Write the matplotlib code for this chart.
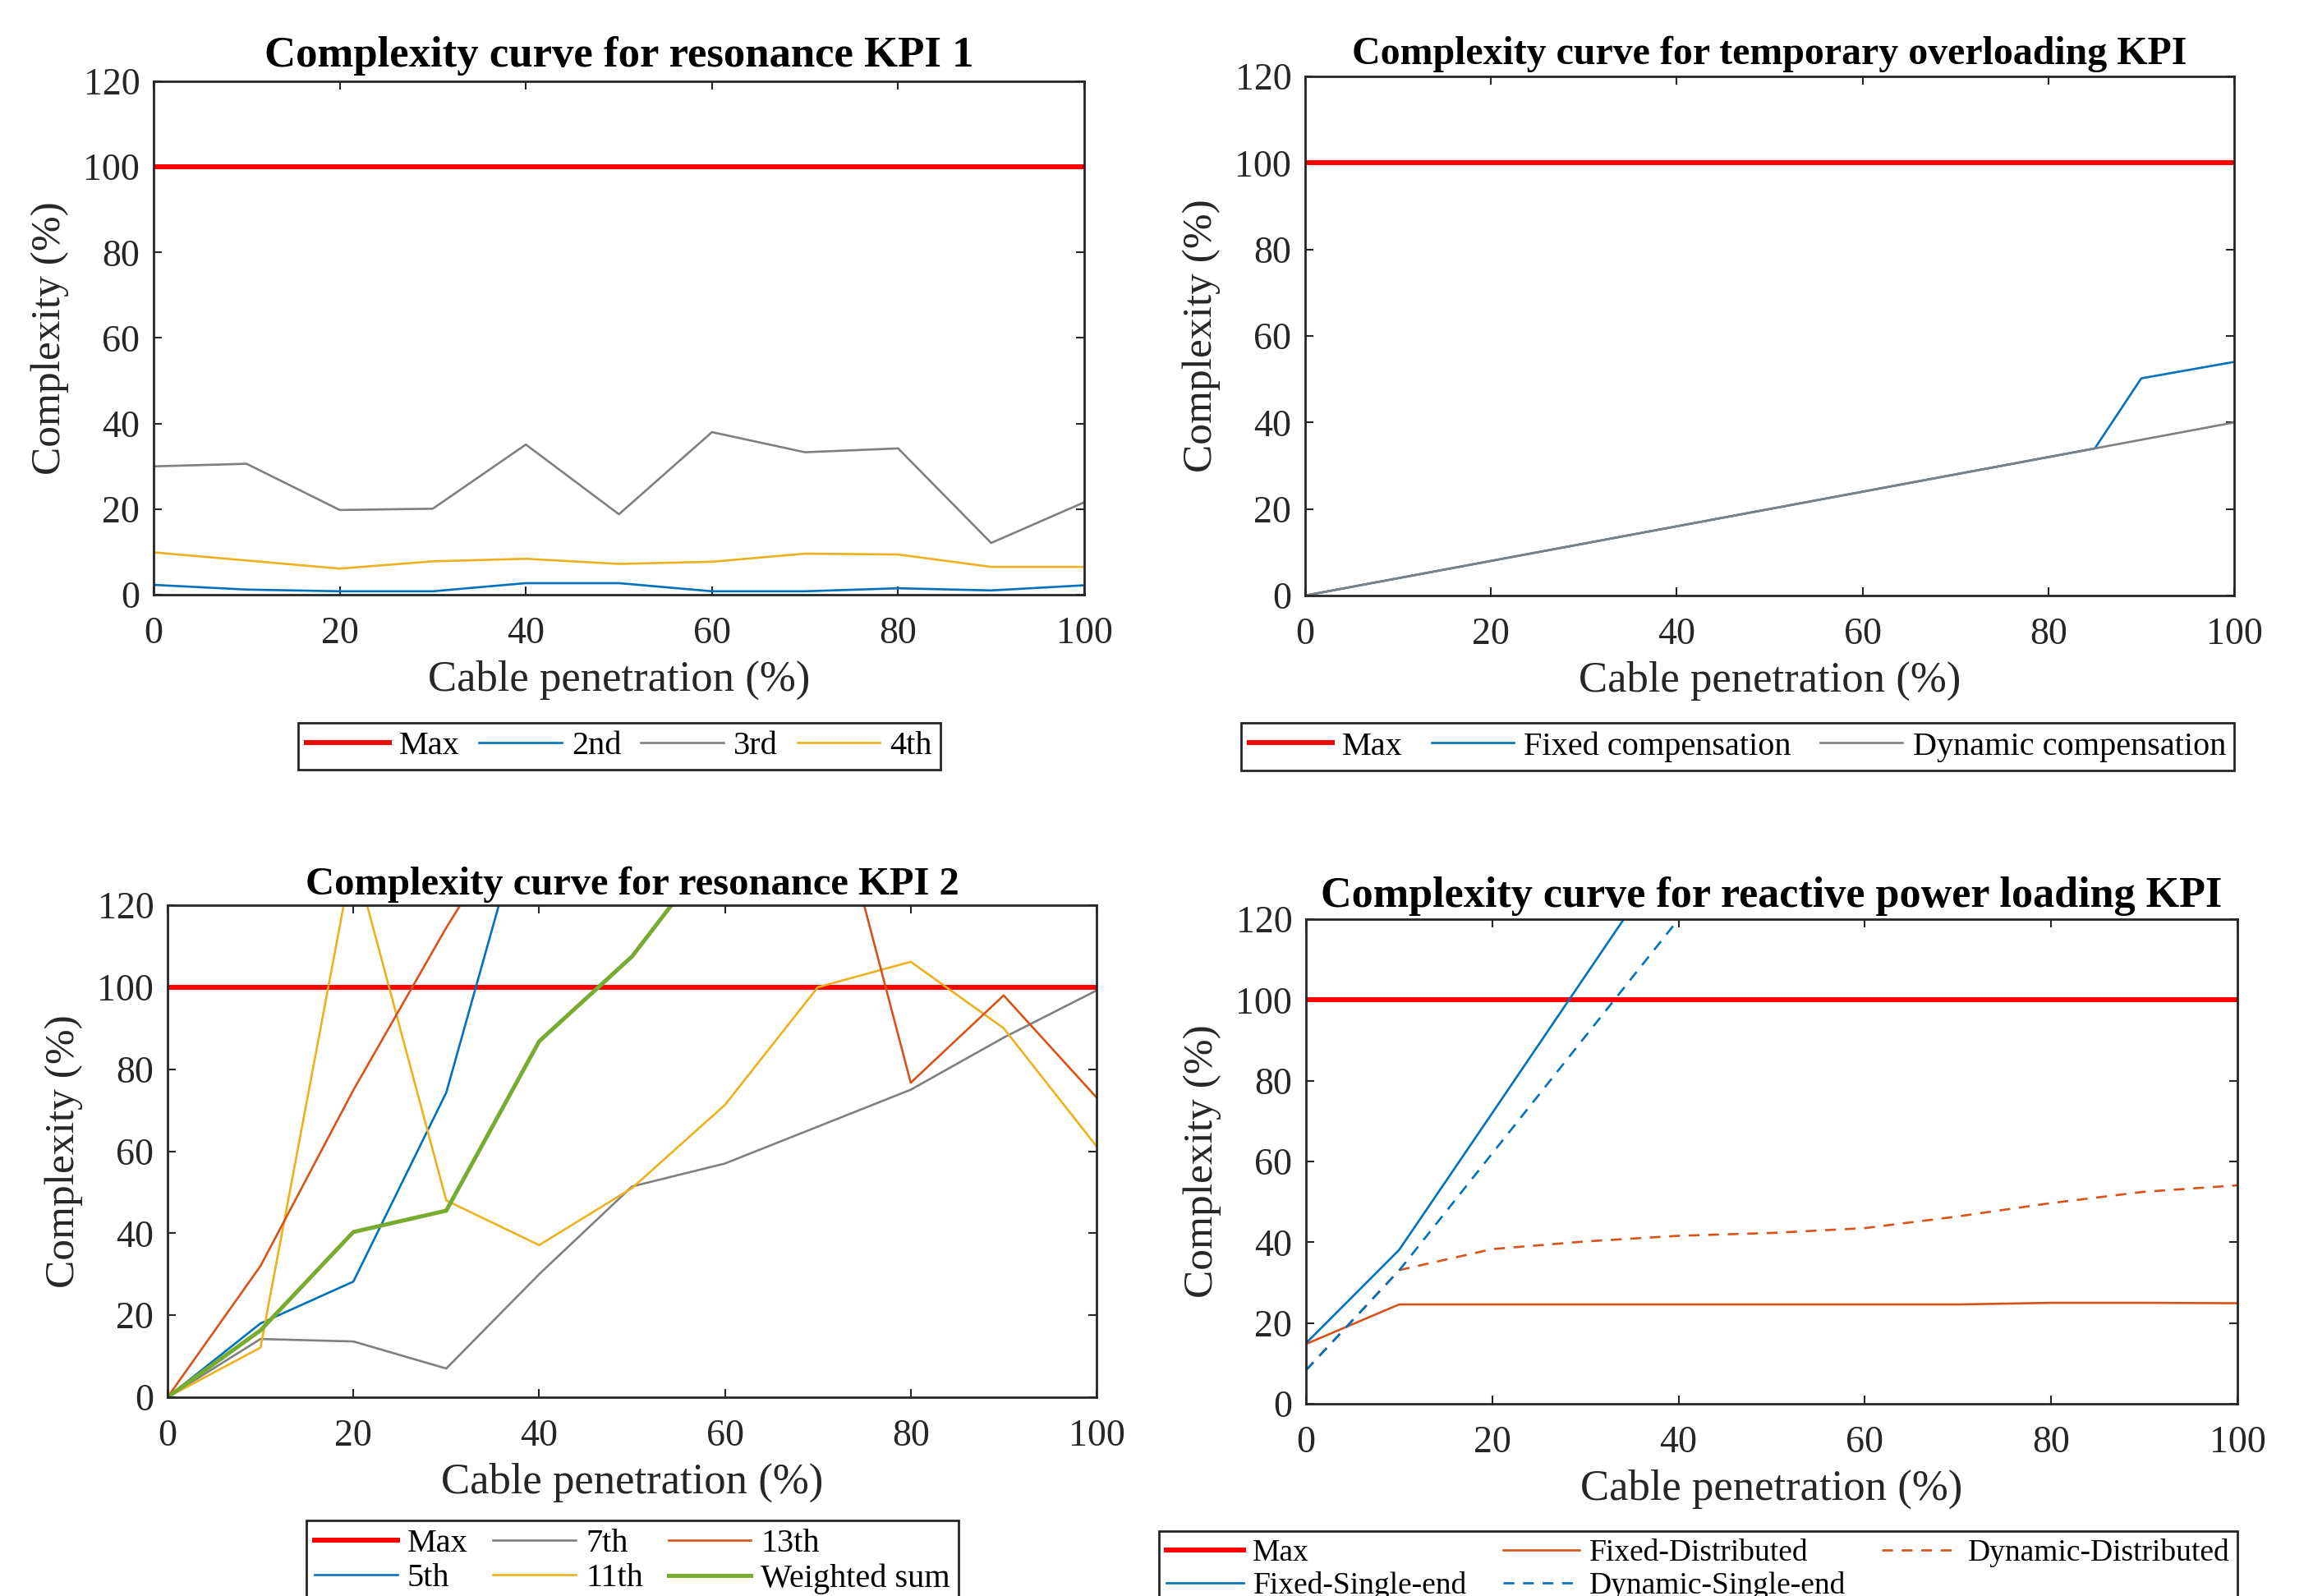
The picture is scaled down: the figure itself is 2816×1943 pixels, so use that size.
import matplotlib
matplotlib.use("Agg")
import matplotlib.pyplot as plt

W, H = 2816, 1943
plt.rcParams['font.family'] = ['Liberation Serif', 'DejaVu Serif']

RED = '#FF0000'
BLUE = '#0072BD'
ORANGE = '#D95319'
YELLOW = '#EDB120'
GREEN = '#77AC30'
GREY = '#808080'
INK = '#262626'

# cable penetration (%)
pen = [0, 10, 20, 30, 40, 50, 60, 70, 80, 90, 100]
max_line = [100, 100, 100, 100, 100, 100, 100, 100, 100, 100, 100]

# resonance KPI 1
kpi1_2nd = [2.3, 1.2, 0.8, 0.8, 2.7, 2.7, 0.8, 0.8, 1.5, 1.0, 2.2]
kpi1_3rd = [30.0, 30.6, 19.8, 20.1, 35.1, 18.8, 38.0, 33.3, 34.2, 12.1, 21.6]
kpi1_4th = [9.9, 8.0, 6.1, 7.8, 8.4, 7.2, 7.7, 9.6, 9.4, 6.5, 6.5]

# temporary overloading
pen_ov = [0, 10, 20, 30, 40, 50, 60, 70, 80, 85, 90, 100]
max_ov = [100, 100, 100, 100, 100, 100, 100, 100, 100, 100, 100, 100]
ov_fixed = [0, 4, 8, 12, 16, 20, 24, 28, 32, 34, 50.2, 54]
ov_dynamic = [0, 4, 8, 12, 16, 20, 24, 28, 32, 34, 36, 40]

# resonance KPI 2
kpi2_5th = [0, 18, 28.2, 74.3, 155, 190, 200, 205, 210, 215, 220]
kpi2_7th = [0, 14.2, 13.6, 7.0, 30, 51.4, 57, 66, 75, 87.7, 99.2]
kpi2_11th = [0, 12.1, 132.5, 48.0, 37.1, 51, 71.3, 100, 106.2, 90, 61.2]
kpi2_13th = [0, 32, 74.9, 114.5, 151, 170, 170, 163, 76.7, 98, 73.1]
kpi2_sum = [0, 16.3, 40.3, 45.5, 86.8, 107.5, 137, 150, 160, 165, 170]

# reactive power loading
rp_fixed_dist = [14.8, 24.6, 24.6, 24.6, 24.6, 24.6, 24.6, 24.6, 25.0, 25.0, 24.9]
rp_dyn_dist = [8.3, 33.1, 38.3, 40.2, 41.6, 42.3, 43.5, 46.4, 49.7, 52.5, 54.1]
rp_fixed_single = [15, 38.1, 72, 106, 140, 174, 208, 242, 276, 310, 344]
rp_dyn_single = [8.3, 33, 62, 91, 120, 149, 178, 207, 236, 265, 294]

fig = plt.figure(figsize=(W / 100, H / 100), dpi=100)


def add_panel(l, t, r, b):
    ax = fig.add_axes([l / W, 1 - b / H, (r - l) / W, (b - t) / H])
    ax.set_xlim(0, 100)
    ax.set_ylim(0, 120)
    ax.set_xticks([0, 20, 40, 60, 80, 100])
    ax.set_yticks([0, 20, 40, 60, 80, 100, 120])
    ax.tick_params(direction='in', top=True, right=True, length=7.5,
                   width=1.5, colors=INK, labelsize=33)
    ax.tick_params(axis='x', pad=19)
    ax.tick_params(axis='y', pad=12)
    for s in ax.spines.values():
        s.set_linewidth(2)
        s.set_color(INK)
    h = b - t
    w = r - l
    ax.set_xlabel('Cable penetration (%)', fontsize=38, color=INK)
    ax.xaxis.label.set_va('center')
    ax.xaxis.set_label_coords(0.5, -104 / h)
    ax.set_ylabel('Complexity (%)', fontsize=37, color=INK)
    ax.yaxis.label.set_va('center')
    ax.yaxis.set_label_coords(-126 / w, 0.5)
    return ax


def panel_title(ax, text, size, gap):
    h = ax.get_position().height * H
    ax.set_title(text, fontsize=size, fontweight='bold', y=1 + gap / h,
                 va='center', pad=0)


def panel_legend(ax, handles, labels, l, t, r, ncol, size=29):
    leg = fig.legend(handles, labels, loc='upper left',
                     bbox_to_anchor=(l / W, 1 - t / H, (r - l) / W, 0),
                     mode='expand', ncol=ncol, fontsize=size, borderaxespad=0,
                     fancybox=False, framealpha=1, edgecolor=INK,
                     handlelength=2.5, handletextpad=0.3, columnspacing=0.8,
                     labelspacing=0.12, borderpad=0.25)
    leg.get_frame().set_linewidth(2)
    return leg


# panel 1
ax1 = add_panel(187, 99, 1320, 724)
h1 = [ax1.plot(pen, max_line, color=RED, lw=4.3)[0],
      ax1.plot(pen, kpi1_2nd, color=BLUE, lw=1.9)[0],
      ax1.plot(pen, kpi1_3rd, color=GREY, lw=1.9)[0],
      ax1.plot(pen, kpi1_4th, color=YELLOW, lw=1.9)[0]]
panel_title(ax1, 'Complexity curve for resonance KPI 1', 38, 31)
panel_legend(ax1, h1, ['Max', '2nd', '3rd', '4th'], 363, 880, 1145, 4)

# panel 2
ax2 = add_panel(1589, 93, 2720, 725)
h2 = [ax2.plot(pen_ov, max_ov, color=RED, lw=4.3)[0],
      ax2.plot(pen_ov, ov_fixed, color=BLUE, lw=1.9)[0],
      ax2.plot(pen_ov, ov_dynamic, color=GREY, lw=1.9)[0]]
panel_title(ax2, 'Complexity curve for temporary overloading KPI', 34.5, 27)
panel_legend(ax2, h2, ['Max', 'Fixed compensation', 'Dynamic compensation'],
             1511, 880, 2720, 3)

# panel 3
ax3 = add_panel(204, 1102, 1335, 1701)
h3 = [ax3.plot(pen, max_line, color=RED, lw=4.3)[0],
      ax3.plot(pen, kpi2_5th, color=BLUE, lw=1.9)[0],
      ax3.plot(pen, kpi2_7th, color=GREY, lw=1.9)[0],
      ax3.plot(pen, kpi2_11th, color=YELLOW, lw=1.9)[0],
      ax3.plot(pen, kpi2_13th, color=ORANGE, lw=1.9)[0],
      ax3.plot(pen, kpi2_sum, color=GREEN, lw=3.6)[0]]
panel_title(ax3, 'Complexity curve for resonance KPI 2', 35, 25)
panel_legend(ax3, h3, ['Max', '5th', '7th', '11th', '13th', 'Weighted sum'],
             373, 1851, 1167, 3)

# panel 4
ax4 = add_panel(1590, 1119, 2724, 1709)
p_max = ax4.plot(pen, max_line, color=RED, lw=4.3)[0]
p_fd = ax4.plot(pen, rp_fixed_dist, color=ORANGE, lw=1.9)[0]
p_dd = ax4.plot(pen, rp_dyn_dist, color=ORANGE, lw=1.9, ls=(0, (5, 4)))[0]
p_fs = ax4.plot(pen, rp_fixed_single, color=BLUE, lw=1.9)[0]
p_ds = ax4.plot(pen, rp_dyn_single, color=BLUE, lw=1.9, ls=(0, (5, 4)))[0]
panel_title(ax4, 'Complexity curve for reactive power loading KPI', 37.5, 28)
panel_legend(ax4, [p_max, p_fs, p_fd, p_ds, p_dd],
             ['Max', 'Fixed-Single-end', 'Fixed-Distributed',
              'Dynamic-Single-end', 'Dynamic-Distributed'],
             1411, 1864, 2724, 3, size=27)

fig.savefig('out.png', dpi=100)
